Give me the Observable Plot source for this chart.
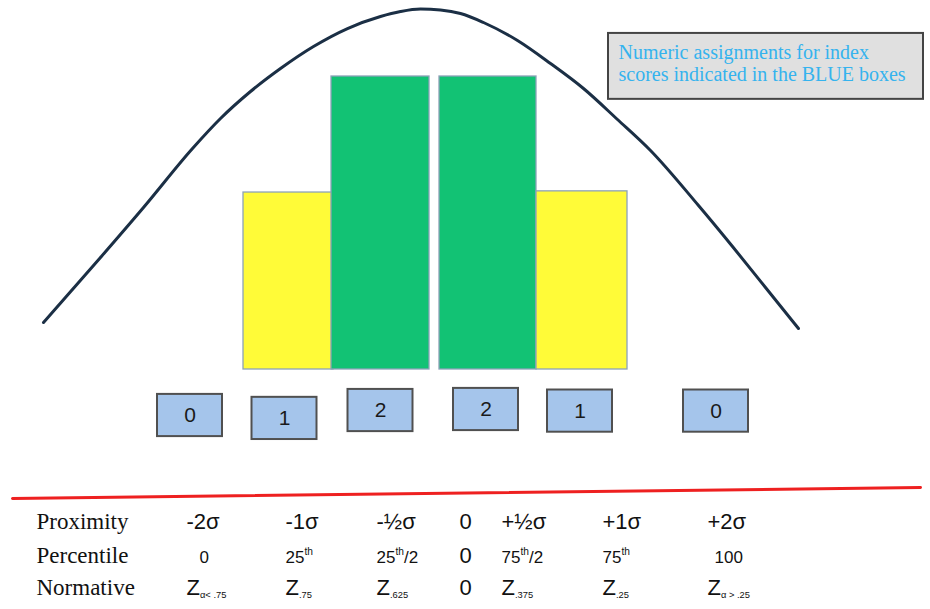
<!DOCTYPE html>
<html><head><meta charset="utf-8">
<script src="https://cdn.jsdelivr.net/npm/d3@7"></script>
<script src="https://cdn.jsdelivr.net/npm/@observablehq/plot@0.6"></script>
<style>body{margin:0;background:#fff}#chart svg{display:block;background:#fff}</style>
</head><body><div id="chart"></div>
<script>
// ---- Bars (histogram of index scores) ----
const barKinds   = ["outer", "inner", "inner", "outer"];
const barStart   = [-1.91, -1.03, 0.05, 1.02];
const barEnd     = [-1.01, -0.05, 1.02, 1.93];
const barHeights = [60.4, 100, 100, 60.8];

// ---- Normal curve ----
const curveX = [-3.91, -3.34, -2.91, -2.42, -2.14, -1.84, -1.54, -1.21, -0.87, -0.54, -0.34, -0.14,
                 0.06, 0.26, 0.49, 0.83, 1.16, 1.49, 1.83, 2.16, 2.64, 2.98, 3.31, 3.64];
const curveY = [16.04, 38.23, 55.29, 75.43, 85.67, 94.88, 102.73, 110.24, 116.38, 120.48, 122.18, 123.04,
                122.70, 121.50, 118.43, 112.29, 104.44, 95.90, 85.32, 74.74, 55.97, 41.98, 27.99, 13.99];

// ---- Blue score boxes ----
const scoreValues = [0, 1, 2, 2, 1, 0];
const scoreX = [-2.445, -1.50, -0.54, 0.515, 1.455, 2.815];
const scoreY = [-15.7, -16.7, -14.0, -13.65, -14.2, -14.2];

// ---- Legend note ----
const noteLines = ["Numeric assignments for index", "scores indicated in the BLUE boxes"];
const noteBox = {x1: 1.74, x2: 4.89, y1: 114.7, y2: 92.2};
const noteTextX = 1.84;
const noteLineY = [106.1, 98.3];

// ---- Red separator ----
const separatorX = [-4.22, 4.86];
const separatorY = [-44.0, -40.3];

// ---- Bottom table ----
const rowLabels = ["Proximity", "Percentile", "Normative"];
const rowY = [-54.3, -65.9, -77.1];
const labelX = -3.98;
const columnX = [-2.48, -1.49, -0.58, 0.25, 0.67, 1.68, 2.73];
const proximityTicks  = ["-2σ", "-1σ", "-½σ", "0", "+½σ", "+1σ", "+2σ"];
const percentileTicks = ["0", "25^th", "25^th/2", "0", "75^th/2", "75^th", "100"];
const percentileX     = [-2.35, -1.49, -0.58, 0.25, 0.67, 1.68, 2.80];
const normativeTicks  = ["Z_α< .75", "Z_.75", "Z_.625", "0", "Z_.375", "Z_.25", "Z_α > .25"];

const bars = barKinds.map((k, i) => ({kind: k, start: barStart[i], end: barEnd[i], height: barHeights[i]}));
const curve = curveX.map((x, i) => ({x, y: curveY[i]}));
const scores = scoreValues.map((v, i) => ({value: String(v), x: scoreX[i], y: scoreY[i]}));
const notes = noteLines.map((t, i) => ({text: t, x: noteTextX, y: noteLineY[i]}));
const separator = separatorX.map((x, i) => ({x, y: separatorY[i]}));
const labels = rowLabels.map((t, i) => ({text: t, x: labelX, y: rowY[i]}));
const prox = proximityTicks.map((t, i) => ({text: t, x: columnX[i], y: rowY[0]}));
const perc = percentileTicks.map((t, i) => ({text: t, x: percentileX[i], y: rowY[1], mid: i === 3}));
const norm = normativeTicks.map((t, i) => ({text: t, x: columnX[i], y: rowY[2]}));

const SANS = "Liberation Sans, Arial, sans-serif";
const SERIF = "Liberation Serif, Times New Roman, serif";
const BW = 0.325, BH = 7.2;

const chart = Plot.plot({
  width: 930, height: 609, margin: 0,
  x: {domain: [0, 1], range: [434, 534], axis: null},
  y: {domain: [0, 100], range: [369, 76], axis: null},
  color: {domain: ["outer", "inner"], range: ["#fffb38", "#12c274"]},
  marks: [
    Plot.rect(bars, {x1: "start", x2: "end", y1: 0, y2: "height", fill: "kind", stroke: "#8da2b8", strokeWidth: 1.3}),
    Plot.line(curve, {x: "x", y: "y", curve: "monotone-x", stroke: "#1b2f45", strokeWidth: 3}),
    Plot.rect([noteBox], {x1: "x1", x2: "x2", y1: "y1", y2: "y2", fill: "#e0e0e0", stroke: "#444", strokeWidth: 2}),
    Plot.text(notes, {x: "x", y: "y", text: "text", textAnchor: "start", lineAnchor: "bottom", fontSize: 20, fontFamily: SERIF, fill: "#35b3ee"}),
    Plot.rect(scores, {x1: d => d.x - BW, x2: d => d.x + BW, y1: d => d.y - BH, y2: d => d.y + BH, fill: "#a5c5eb", stroke: "#505050", strokeWidth: 2}),
    Plot.text(scores, {x: "x", y: "y", text: "value", fontSize: 21, fontFamily: SANS, fill: "#1a1a1a"}),
    Plot.line(separator, {x: "x", y: "y", stroke: "#ee2020", strokeWidth: 3}),
    Plot.text(labels, {x: "x", y: "y", text: "text", textAnchor: "start", lineAnchor: "bottom", fontSize: 23, fontFamily: SERIF, fill: "#111"}),
    Plot.text(prox, {x: "x", y: "y", text: "text", textAnchor: "start", lineAnchor: "bottom", fontSize: 22, fontFamily: SANS, fill: "#111"}),
    Plot.text(perc, {x: "x", y: "y", text: "text", textAnchor: "start", lineAnchor: "bottom", fontSize: d => d.mid ? 22 : 17, fontFamily: SANS, fill: "#111"}),
    Plot.text(norm, {x: "x", y: "y", text: "text", textAnchor: "start", lineAnchor: "bottom", fontSize: 22, fontFamily: SANS, fill: "#111"})
  ]
});

// superscripts / subscripts as real tspans
d3.select(chart).selectAll("text").each(function () {
  const t = this.textContent;
  const m = t.match(/^([^_^]*)([_^])([^/]*)(.*)$/);
  if (!m) return;
  const fs = parseFloat(getComputedStyle(this).fontSize) || parseFloat(this.getAttribute("font-size")) || 17;
  const sel = d3.select(this);
  sel.text(null);
  sel.append("tspan").text(m[1]);
  const sup = m[2] === "^";
  const shift = sup ? -fs * 0.45 : fs * 0.18;
  sel.append("tspan").attr("font-size", sup ? fs * 0.6 : fs * 0.55).attr("dy", shift).text(m[3]);
  if (m[4]) sel.append("tspan").attr("dy", -shift).text(m[4]);
});

document.getElementById("chart").appendChild(chart);
</script>
</body></html>
